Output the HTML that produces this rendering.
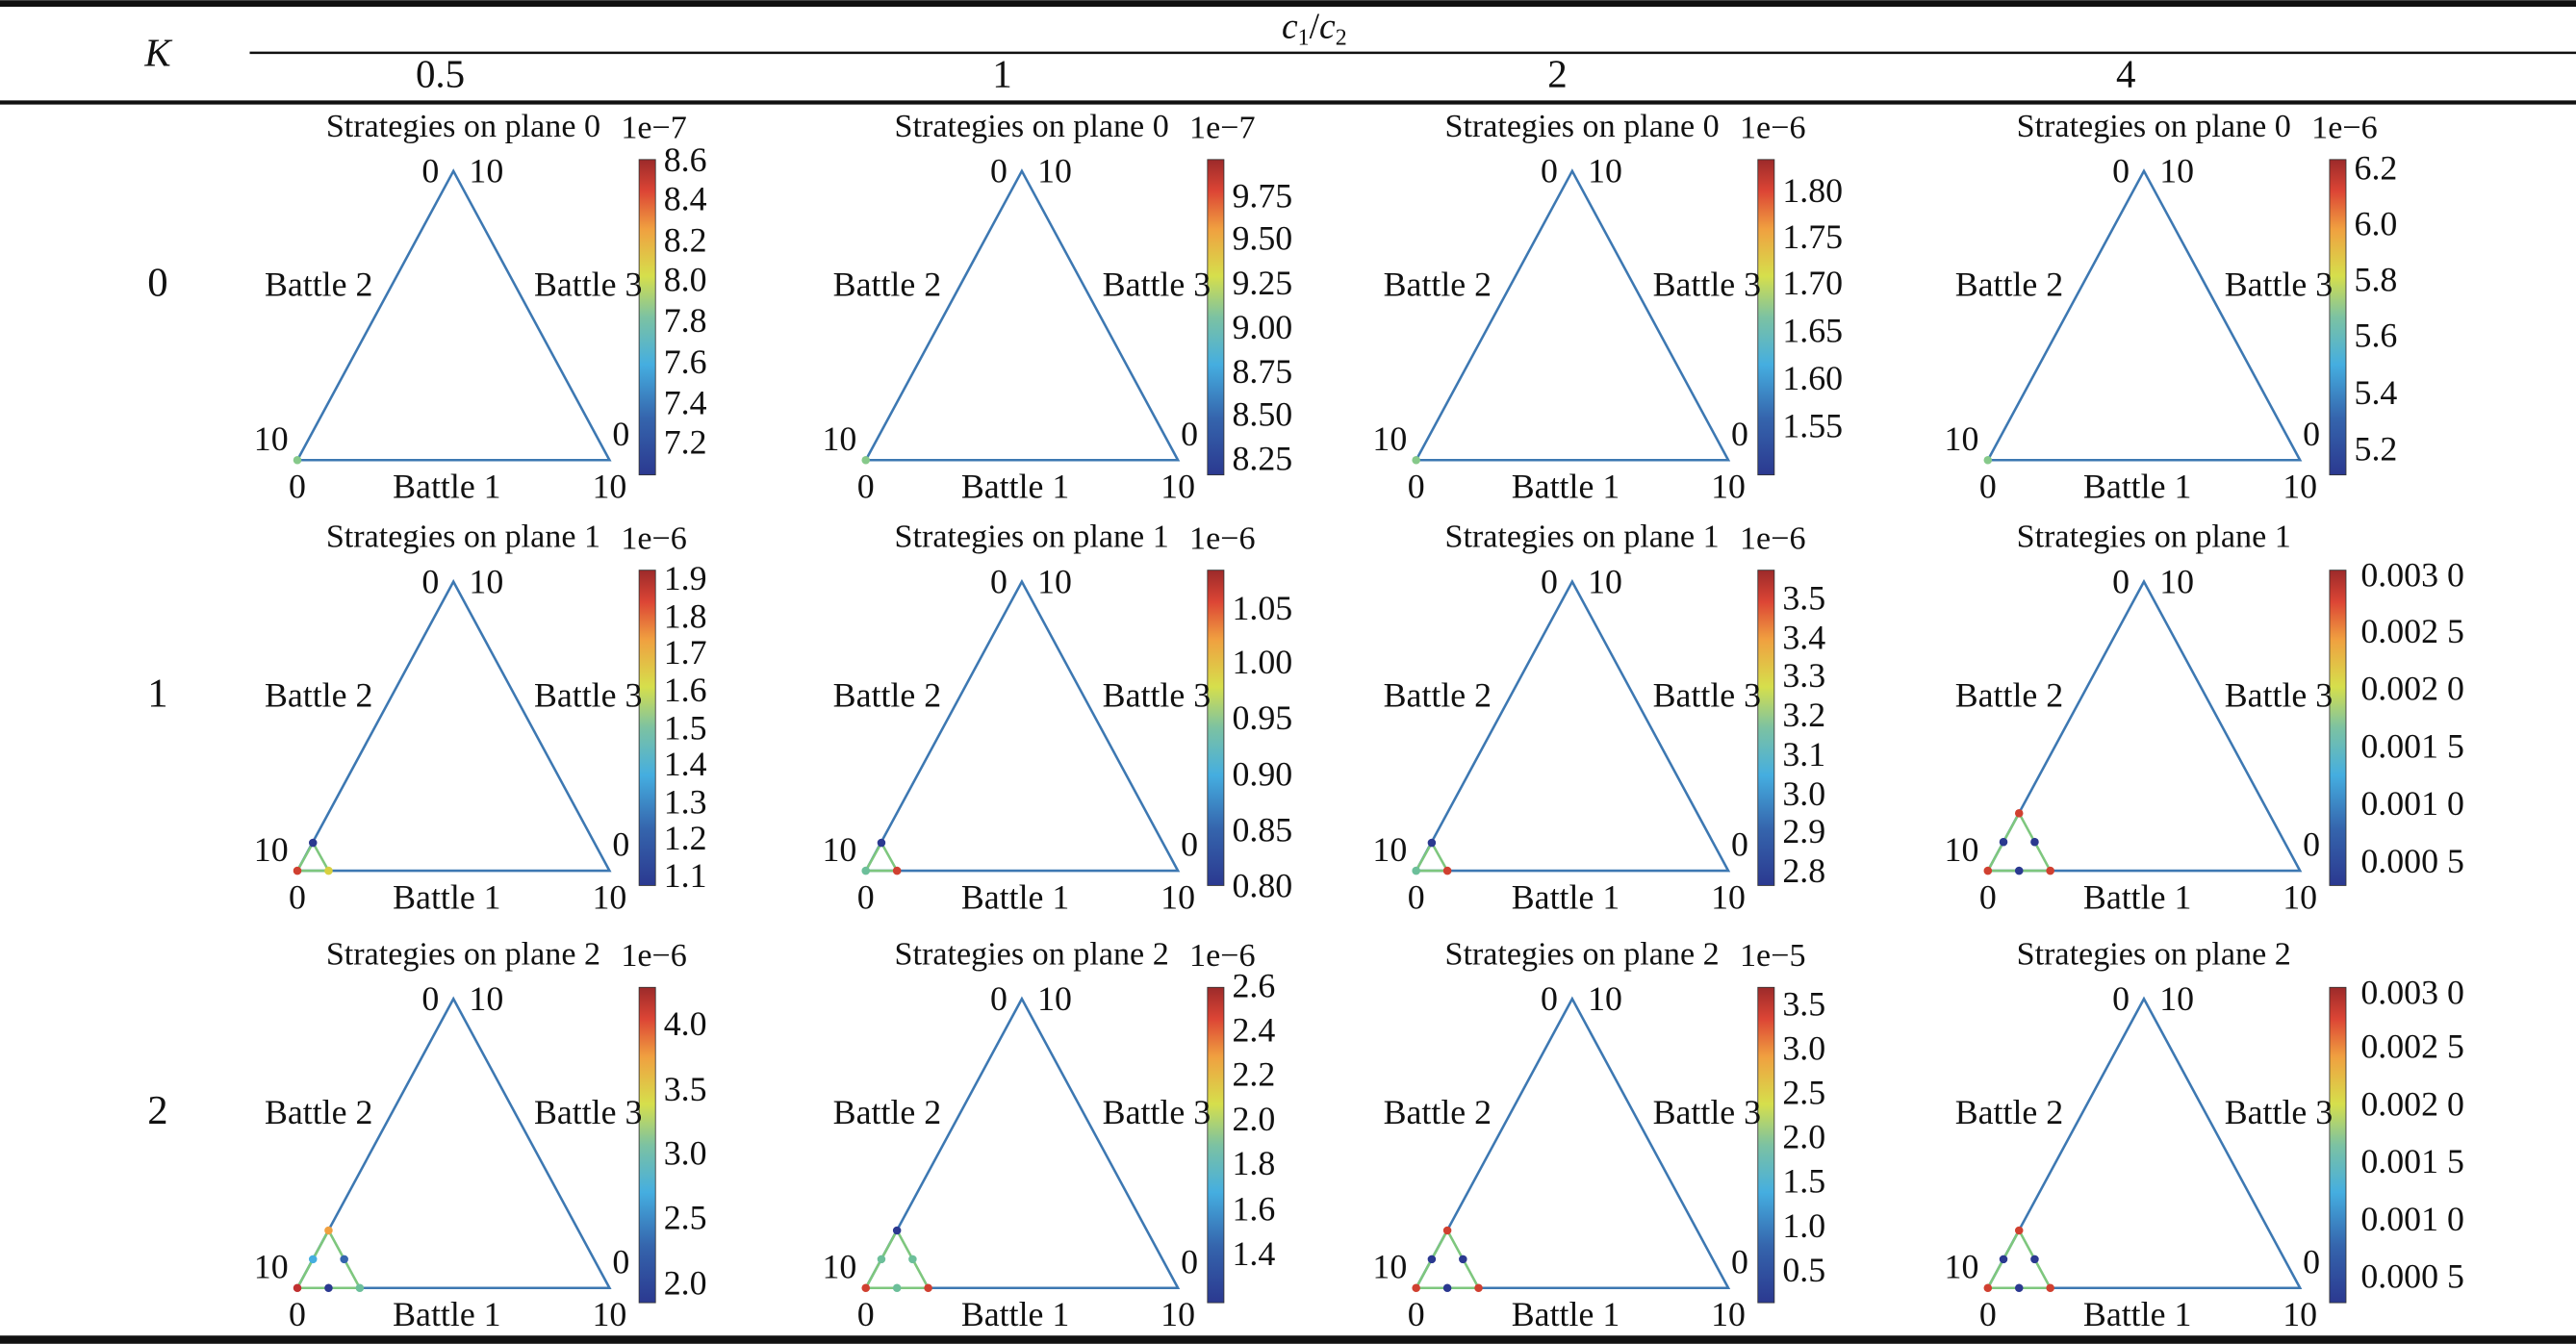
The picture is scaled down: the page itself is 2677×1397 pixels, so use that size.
<!DOCTYPE html>
<html><head><meta charset="utf-8"><style>
html,body{margin:0;padding:0;background:#fff;}
svg{display:block}
svg text{font-family:"Liberation Serif","Times New Roman",serif;fill:#111;}
.l{font-size:21px;text-anchor:middle}
.t{font-size:20px;text-anchor:middle}
.e{font-size:20px}
.k{font-size:21px}
</style></head><body>
<svg width="2677" height="1397" viewBox="0 0 1568 818" xmlns="http://www.w3.org/2000/svg" font-family="Liberation Serif, serif">
<defs>
<linearGradient id="g" x1="0" y1="1" x2="0" y2="0">
<stop offset="0" stop-color="#2b3990"/><stop offset="0.18" stop-color="#3565ad"/><stop offset="0.35" stop-color="#45aee0"/><stop offset="0.5" stop-color="#7cc2a2"/><stop offset="0.63" stop-color="#d6df4c"/><stop offset="0.78" stop-color="#f0a040"/><stop offset="0.9" stop-color="#dc4535"/><stop offset="1" stop-color="#9c2a2a"/>
</linearGradient>
<g id="p">
<polygon points="181,280 276,104 371,280" fill="none" stroke="#3d78b2" stroke-width="1.5"/>
<rect x="389" y="97" width="10" height="192" fill="url(#g)" stroke="#333" stroke-width="0.5"/>
</g>
<g id="s2">
<polyline points="181,280 219,280 200,245 181,280" fill="none" stroke="#7ec77e" stroke-width="1.5"/>
</g>
</defs>
<rect x="0" y="0" width="1568" height="818" fill="#fff"/>
<rect x="0" y="0" width="1568" height="4" fill="#111"/>
<rect x="0" y="61" width="1568" height="2.5" fill="#111"/>
<rect x="0" y="813" width="1568" height="5" fill="#111"/>
<line x1="152" y1="32" x2="1568" y2="32" stroke="#111" stroke-width="1.5"/>
<text x="96" y="40" style="font-size:24px;font-style:italic" text-anchor="middle">K</text>
<text x="800" y="23" style="font-size:22px" text-anchor="middle"><tspan font-style="italic">c</tspan><tspan font-size="14" dy="4">1</tspan><tspan dy="-4">/</tspan><tspan font-style="italic">c</tspan><tspan font-size="14" dy="4">2</tspan></text>
<text x="268" y="53" style="font-size:24px" text-anchor="middle">0.5</text>
<text x="610" y="53" style="font-size:24px" text-anchor="middle">1</text>
<text x="948" y="53" style="font-size:24px" text-anchor="middle">2</text>
<text x="1294" y="53" style="font-size:24px" text-anchor="middle">4</text>
<text x="96" y="180" style="font-size:25px" text-anchor="middle">0</text>
<text x="96" y="430" style="font-size:25px" text-anchor="middle">1</text>
<text x="96" y="684" style="font-size:25px" text-anchor="middle">2</text>

<g transform="translate(0,0)"><use href="#p"/><circle cx="181" cy="280" r="2.5" fill="#86c98a"/>
<text class="t" x="282" y="83">Strategies on plane 0</text><text class="e" x="378" y="84">1e−7</text>
<text class="l" x="262" y="111">0</text><text class="l" x="296" y="111">10</text><text class="l" x="194" y="180">Battle 2</text><text class="l" x="358" y="180">Battle 3</text><text class="l" x="165" y="274">10</text><text class="l" x="378" y="271">0</text><text class="l" x="181" y="303">0</text><text class="l" x="272" y="303">Battle 1</text><text class="l" x="371" y="303">10</text></g>
<g transform="translate(346,0)"><use href="#p"/><circle cx="181" cy="280" r="2.5" fill="#86c98a"/>
<text class="t" x="282" y="83">Strategies on plane 0</text><text class="e" x="378" y="84">1e−7</text>
<text class="l" x="262" y="111">0</text><text class="l" x="296" y="111">10</text><text class="l" x="194" y="180">Battle 2</text><text class="l" x="358" y="180">Battle 3</text><text class="l" x="165" y="274">10</text><text class="l" x="378" y="271">0</text><text class="l" x="181" y="303">0</text><text class="l" x="272" y="303">Battle 1</text><text class="l" x="371" y="303">10</text></g>
<g transform="translate(681,0)"><use href="#p"/><circle cx="181" cy="280" r="2.5" fill="#86c98a"/>
<text class="t" x="282" y="83">Strategies on plane 0</text><text class="e" x="378" y="84">1e−6</text>
<text class="l" x="262" y="111">0</text><text class="l" x="296" y="111">10</text><text class="l" x="194" y="180">Battle 2</text><text class="l" x="358" y="180">Battle 3</text><text class="l" x="165" y="274">10</text><text class="l" x="378" y="271">0</text><text class="l" x="181" y="303">0</text><text class="l" x="272" y="303">Battle 1</text><text class="l" x="371" y="303">10</text></g>
<g transform="translate(1029,0)"><use href="#p"/><circle cx="181" cy="280" r="2.5" fill="#86c98a"/>
<text class="t" x="282" y="83">Strategies on plane 0</text><text class="e" x="378" y="84">1e−6</text>
<text class="l" x="262" y="111">0</text><text class="l" x="296" y="111">10</text><text class="l" x="194" y="180">Battle 2</text><text class="l" x="358" y="180">Battle 3</text><text class="l" x="165" y="274">10</text><text class="l" x="378" y="271">0</text><text class="l" x="181" y="303">0</text><text class="l" x="272" y="303">Battle 1</text><text class="l" x="371" y="303">10</text></g>

<g transform="translate(0,250)"><use href="#p"/><polyline points="181,280 200,280 190.5,263 181,280" fill="none" stroke="#7ec77e" stroke-width="1.5"/><circle cx="181" cy="280" r="2.5" fill="#d04030"/><circle cx="200" cy="280" r="2.5" fill="#d8d040"/><circle cx="190.5" cy="263" r="2.5" fill="#2b3990"/>
<text class="t" x="282" y="83">Strategies on plane 1</text><text class="e" x="378" y="84">1e−6</text>
<text class="l" x="262" y="111">0</text><text class="l" x="296" y="111">10</text><text class="l" x="194" y="180">Battle 2</text><text class="l" x="358" y="180">Battle 3</text><text class="l" x="165" y="274">10</text><text class="l" x="378" y="271">0</text><text class="l" x="181" y="303">0</text><text class="l" x="272" y="303">Battle 1</text><text class="l" x="371" y="303">10</text></g>
<g transform="translate(346,250)"><use href="#p"/><polyline points="181,280 200,280 190.5,263 181,280" fill="none" stroke="#7ec77e" stroke-width="1.5"/><circle cx="181" cy="280" r="2.5" fill="#6cbf9a"/><circle cx="200" cy="280" r="2.5" fill="#d04030"/><circle cx="190.5" cy="263" r="2.5" fill="#2b3990"/>
<text class="t" x="282" y="83">Strategies on plane 1</text><text class="e" x="378" y="84">1e−6</text>
<text class="l" x="262" y="111">0</text><text class="l" x="296" y="111">10</text><text class="l" x="194" y="180">Battle 2</text><text class="l" x="358" y="180">Battle 3</text><text class="l" x="165" y="274">10</text><text class="l" x="378" y="271">0</text><text class="l" x="181" y="303">0</text><text class="l" x="272" y="303">Battle 1</text><text class="l" x="371" y="303">10</text></g>
<g transform="translate(681,250)"><use href="#p"/><polyline points="181,280 200,280 190.5,263 181,280" fill="none" stroke="#7ec77e" stroke-width="1.5"/><circle cx="181" cy="280" r="2.5" fill="#6cbf9a"/><circle cx="200" cy="280" r="2.5" fill="#d04030"/><circle cx="190.5" cy="263" r="2.5" fill="#2b3990"/>
<text class="t" x="282" y="83">Strategies on plane 1</text><text class="e" x="378" y="84">1e−6</text>
<text class="l" x="262" y="111">0</text><text class="l" x="296" y="111">10</text><text class="l" x="194" y="180">Battle 2</text><text class="l" x="358" y="180">Battle 3</text><text class="l" x="165" y="274">10</text><text class="l" x="378" y="271">0</text><text class="l" x="181" y="303">0</text><text class="l" x="272" y="303">Battle 1</text><text class="l" x="371" y="303">10</text></g>
<g transform="translate(1029,250)"><use href="#p"/><use href="#s2"/><circle cx="181" cy="280" r="2.5" fill="#d04030"/><circle cx="219" cy="280" r="2.5" fill="#d04030"/><circle cx="200" cy="245" r="2.5" fill="#d04030"/><circle cx="200" cy="280" r="2.5" fill="#2b3990"/><circle cx="190.5" cy="262.5" r="2.5" fill="#2b3990"/><circle cx="209.5" cy="262.5" r="2.5" fill="#2b3990"/>
<text class="t" x="282" y="83">Strategies on plane 1</text>
<text class="l" x="262" y="111">0</text><text class="l" x="296" y="111">10</text><text class="l" x="194" y="180">Battle 2</text><text class="l" x="358" y="180">Battle 3</text><text class="l" x="165" y="274">10</text><text class="l" x="378" y="271">0</text><text class="l" x="181" y="303">0</text><text class="l" x="272" y="303">Battle 1</text><text class="l" x="371" y="303">10</text></g>

<g transform="translate(0,504)"><use href="#p"/><use href="#s2"/><circle cx="181" cy="280" r="2.5" fill="#c03030"/><circle cx="219" cy="280" r="2.5" fill="#6cbf9a"/><circle cx="200" cy="245" r="2.5" fill="#f0a040"/><circle cx="200" cy="280" r="2.5" fill="#2b3990"/><circle cx="190.5" cy="262.5" r="2.5" fill="#45aee0"/><circle cx="209.5" cy="262.5" r="2.5" fill="#3565ad"/>
<text class="t" x="282" y="83">Strategies on plane 2</text><text class="e" x="378" y="84">1e−6</text>
<text class="l" x="262" y="111">0</text><text class="l" x="296" y="111">10</text><text class="l" x="194" y="180">Battle 2</text><text class="l" x="358" y="180">Battle 3</text><text class="l" x="165" y="274">10</text><text class="l" x="378" y="271">0</text><text class="l" x="181" y="303">0</text><text class="l" x="272" y="303">Battle 1</text><text class="l" x="371" y="303">10</text></g>
<g transform="translate(346,504)"><use href="#p"/><use href="#s2"/><circle cx="181" cy="280" r="2.5" fill="#d04030"/><circle cx="219" cy="280" r="2.5" fill="#d04030"/><circle cx="200" cy="245" r="2.5" fill="#2b3990"/><circle cx="200" cy="280" r="2.5" fill="#6cbf9a"/><circle cx="190.5" cy="262.5" r="2.5" fill="#6cbf9a"/><circle cx="209.5" cy="262.5" r="2.5" fill="#6cbf9a"/>
<text class="t" x="282" y="83">Strategies on plane 2</text><text class="e" x="378" y="84">1e−6</text>
<text class="l" x="262" y="111">0</text><text class="l" x="296" y="111">10</text><text class="l" x="194" y="180">Battle 2</text><text class="l" x="358" y="180">Battle 3</text><text class="l" x="165" y="274">10</text><text class="l" x="378" y="271">0</text><text class="l" x="181" y="303">0</text><text class="l" x="272" y="303">Battle 1</text><text class="l" x="371" y="303">10</text></g>
<g transform="translate(681,504)"><use href="#p"/><use href="#s2"/><circle cx="181" cy="280" r="2.5" fill="#d04030"/><circle cx="219" cy="280" r="2.5" fill="#d04030"/><circle cx="200" cy="245" r="2.5" fill="#d04030"/><circle cx="200" cy="280" r="2.5" fill="#2b3990"/><circle cx="190.5" cy="262.5" r="2.5" fill="#2b3990"/><circle cx="209.5" cy="262.5" r="2.5" fill="#2b3990"/>
<text class="t" x="282" y="83">Strategies on plane 2</text><text class="e" x="378" y="84">1e−5</text>
<text class="l" x="262" y="111">0</text><text class="l" x="296" y="111">10</text><text class="l" x="194" y="180">Battle 2</text><text class="l" x="358" y="180">Battle 3</text><text class="l" x="165" y="274">10</text><text class="l" x="378" y="271">0</text><text class="l" x="181" y="303">0</text><text class="l" x="272" y="303">Battle 1</text><text class="l" x="371" y="303">10</text></g>
<g transform="translate(1029,504)"><use href="#p"/><use href="#s2"/><circle cx="181" cy="280" r="2.5" fill="#d04030"/><circle cx="219" cy="280" r="2.5" fill="#d04030"/><circle cx="200" cy="245" r="2.5" fill="#d04030"/><circle cx="200" cy="280" r="2.5" fill="#2b3990"/><circle cx="190.5" cy="262.5" r="2.5" fill="#2b3990"/><circle cx="209.5" cy="262.5" r="2.5" fill="#2b3990"/>
<text class="t" x="282" y="83">Strategies on plane 2</text>
<text class="l" x="262" y="111">0</text><text class="l" x="296" y="111">10</text><text class="l" x="194" y="180">Battle 2</text><text class="l" x="358" y="180">Battle 3</text><text class="l" x="165" y="274">10</text><text class="l" x="378" y="271">0</text><text class="l" x="181" y="303">0</text><text class="l" x="272" y="303">Battle 1</text><text class="l" x="371" y="303">10</text></g>

<g class="k">
<text x="404" y="104">8.6</text><text x="404" y="128">8.4</text><text x="404" y="153">8.2</text><text x="404" y="177">8.0</text><text x="404" y="202">7.8</text><text x="404" y="227">7.6</text><text x="404" y="252">7.4</text><text x="404" y="276">7.2</text>
<text x="750" y="126">9.75</text><text x="750" y="152">9.50</text><text x="750" y="179">9.25</text><text x="750" y="206">9.00</text><text x="750" y="233">8.75</text><text x="750" y="259">8.50</text><text x="750" y="286">8.25</text>
<text x="1085" y="123">1.80</text><text x="1085" y="151">1.75</text><text x="1085" y="179">1.70</text><text x="1085" y="208">1.65</text><text x="1085" y="237">1.60</text><text x="1085" y="266">1.55</text>
<text x="1433" y="109">6.2</text><text x="1433" y="143">6.0</text><text x="1433" y="177">5.8</text><text x="1433" y="211">5.6</text><text x="1433" y="246">5.4</text><text x="1433" y="280">5.2</text>

<text x="404" y="359">1.9</text><text x="404" y="382">1.8</text><text x="404" y="404">1.7</text><text x="404" y="427">1.6</text><text x="404" y="450">1.5</text><text x="404" y="472">1.4</text><text x="404" y="495">1.3</text><text x="404" y="517">1.2</text><text x="404" y="540">1.1</text>
<text x="750" y="377">1.05</text><text x="750" y="410">1.00</text><text x="750" y="444">0.95</text><text x="750" y="478">0.90</text><text x="750" y="512">0.85</text><text x="750" y="546">0.80</text>
<text x="1085" y="371">3.5</text><text x="1085" y="395">3.4</text><text x="1085" y="418">3.3</text><text x="1085" y="442">3.2</text><text x="1085" y="466">3.1</text><text x="1085" y="490">3.0</text><text x="1085" y="513">2.9</text><text x="1085" y="537">2.8</text>
<text x="1437" y="357">0.003 0</text><text x="1437" y="391">0.002 5</text><text x="1437" y="426">0.002 0</text><text x="1437" y="461">0.001 5</text><text x="1437" y="496">0.001 0</text><text x="1437" y="531">0.000 5</text>

<text x="404" y="630">4.0</text><text x="404" y="670">3.5</text><text x="404" y="709">3.0</text><text x="404" y="748">2.5</text><text x="404" y="788">2.0</text>
<text x="750" y="607">2.6</text><text x="750" y="634">2.4</text><text x="750" y="661">2.2</text><text x="750" y="688">2.0</text><text x="750" y="715">1.8</text><text x="750" y="743">1.6</text><text x="750" y="770">1.4</text>
<text x="1085" y="618">3.5</text><text x="1085" y="645">3.0</text><text x="1085" y="672">2.5</text><text x="1085" y="699">2.0</text><text x="1085" y="726">1.5</text><text x="1085" y="753">1.0</text><text x="1085" y="780">0.5</text>
<text x="1437" y="611">0.003 0</text><text x="1437" y="644">0.002 5</text><text x="1437" y="679">0.002 0</text><text x="1437" y="714">0.001 5</text><text x="1437" y="749">0.001 0</text><text x="1437" y="784">0.000 5</text>
</g>
</svg>
</body></html>
